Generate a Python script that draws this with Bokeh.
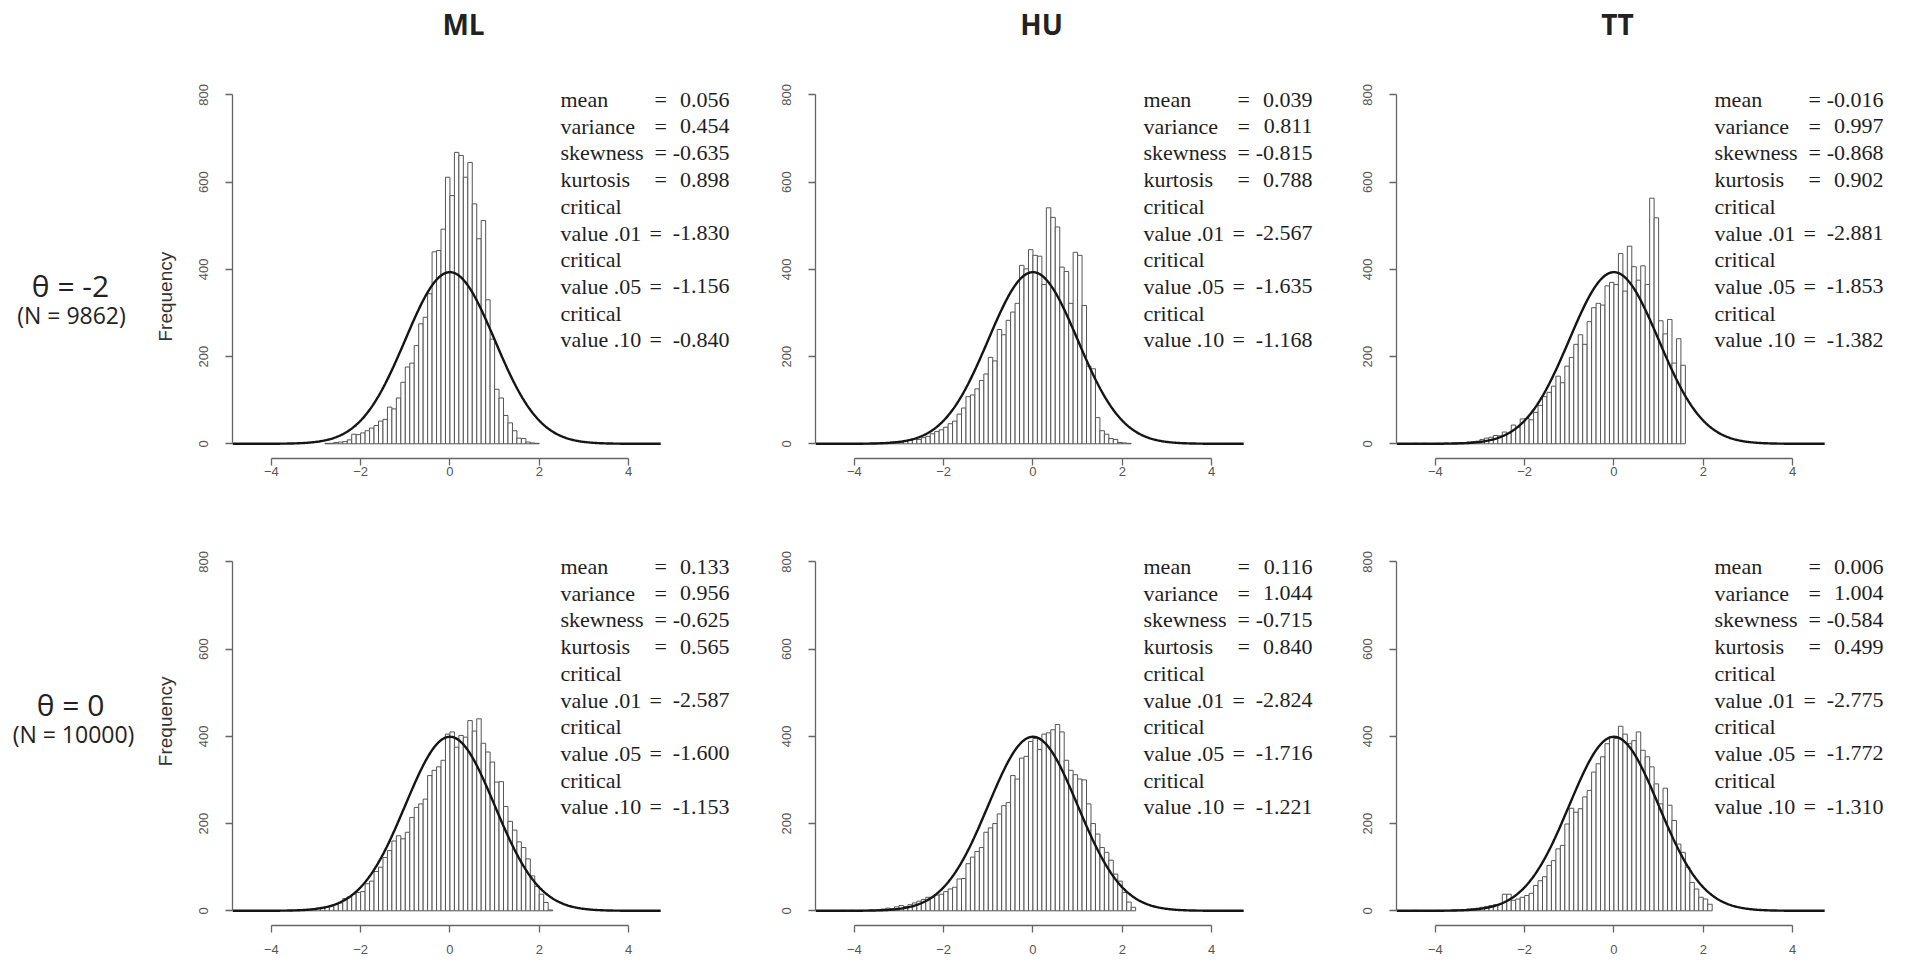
import numpy as np
from bokeh.plotting import figure
from bokeh.layouts import column, row
from bokeh.models import Range1d, LinearAxis, FixedTicker, Label, ColumnDataSource
from bokeh.core.properties import value
from bokeh.embed import file_html
from bokeh.resources import INLINE

BIN_WIDTH = 0.1

methods = ["ML", "HU", "TT"]
theta_labels = ["θ = -2", "θ = 0"]
n_labels = ["(N = 9862)", "(N = 10000)"]
n_sizes = [9862, 10000]

x_ticks = [-4, -2, 0, 2, 4]
y_ticks = [0, 200, 400, 600, 800]

stat_rows = ["mean", "variance", "skewness", "kurtosis", "critical",
             "value .01", "critical", "value .05", "critical", "value .10"]
stat_value_index = [0, 1, 2, 3, None, 4, None, 5, None, 6]

# ---- theta = -2 (N = 9862): histogram counts per 0.1 bin, from the given left edge
ml_m2_start = -2.8
ml_m2_counts = [1, 1, 3, 4, 5, 9, 22, 21, 25, 30, 36, 42, 52, 56, 84, 80, 105, 141, 176,
                185, 225, 275, 290, 344, 440, 443, 492, 611, 569, 668, 661, 611, 645,
                550, 470, 512, 330, 240, 125, 105, 65, 48, 30, 13, 12, 4, 2, 1]
ml_m2_stats = [0.056, 0.454, -0.635, 0.898, -1.830, -1.156, -0.840]

hu_m2_start = -3.9
hu_m2_counts = [1, 0, 1, 1, 2, 1, 3, 4, 5, 4, 6, 8, 12, 10, 14, 17, 23, 28, 32, 38,
                46, 52, 68, 82, 108, 112, 126, 145, 160, 198, 190, 262, 250, 283, 302,
                322, 409, 401, 445, 432, 430, 365, 541, 519, 497, 405, 395, 322, 439,
                432, 317, 178, 172, 60, 30, 22, 12, 10, 3, 2, 1]
hu_m2_stats = [0.039, 0.811, -0.815, 0.788, -2.567, -1.635, -1.168]

tt_m2_start = -4.5
tt_m2_counts = [1, 0, 1, 0, 0, 1, 1, 2, 1, 2, 3, 3, 4, 5, 6, 10, 13, 15, 19, 18, 27,
                24, 43, 38, 57, 58, 55, 72, 88, 108, 118, 132, 155, 140, 178, 198, 228,
                250, 228, 280, 312, 322, 318, 362, 370, 365, 436, 350, 453, 406, 375,
                408, 365, 563, 518, 282, 252, 285, 185, 241, 180]
tt_m2_stats = [-0.016, 0.997, -0.868, 0.902, -2.881, -1.853, -1.382]

# ---- theta = 0 (N = 10000)
ml_0_start = -3.6
ml_0_counts = [1, 1, 2, 2, 3, 4, 6, 8, 9, 10, 14, 18, 28, 32, 38, 42, 44, 62, 68, 90,
               100, 122, 138, 160, 172, 165, 180, 214, 237, 245, 256, 310, 322, 330, 345,
               405, 410, 375, 402, 398, 436, 412, 440, 384, 364, 341, 295, 296, 239, 205,
               185, 158, 145, 119, 80, 56, 38, 19, 2]
ml_0_stats = [0.133, 0.956, -0.625, 0.565, -2.587, -1.600, -1.153]

hu_0_start = -4.3
hu_0_counts = [1, 0, 1, 0, 1, 1, 2, 1, 3, 4, 6, 5, 9, 12, 10, 14, 18, 22, 26, 31, 31,
               36, 38, 44, 50, 54, 73, 74, 108, 123, 136, 145, 180, 190, 200, 222, 241,
               248, 310, 302, 350, 354, 388, 395, 370, 405, 408, 415, 427, 410, 345, 322,
               312, 302, 300, 245, 200, 176, 145, 134, 116, 84, 68, 42, 20, 8]
hu_0_stats = [0.116, 1.044, -0.715, 0.840, -2.824, -1.716, -1.221]

tt_0_start = -4.5
tt_0_counts = [1, 0, 0, 0, 0, 1, 0, 1, 1, 2, 2, 3, 4, 5, 6, 8, 10, 12, 14, 15, 38, 38,
               24, 27, 31, 35, 40, 58, 69, 78, 104, 115, 142, 150, 199, 235, 226, 234,
               261, 276, 318, 337, 353, 383, 399, 395, 423, 405, 383, 390, 410, 368, 353,
               330, 291, 245, 281, 242, 207, 153, 134, 100, 65, 50, 31, 27, 15]
tt_0_stats = [0.006, 1.004, -0.584, 0.499, -2.775, -1.772, -1.310]

panels = [
    [(ml_m2_start, ml_m2_counts, ml_m2_stats),
     (hu_m2_start, hu_m2_counts, hu_m2_stats),
     (tt_m2_start, tt_m2_counts, tt_m2_stats)],
    [(ml_0_start, ml_0_counts, ml_0_stats),
     (hu_0_start, hu_0_counts, hu_0_stats),
     (tt_0_start, tt_0_counts, tt_0_stats)],
]

# ---- page geometry (pixels)
LABEL_COL_W = 180
HEADER_H = 60
FRAME_W, FRAME_H = 506, 378
col_w = [580, 585, 560]
col_border_left = [52, 55, 51]
col_border_right = [22, 24, 3]
row_h = [432, 472]
row_border_top = [20, 55]
row_border_bottom = [34, 39]
row_tick_standoff = [1, 12]

PX_PER_X = 44.65
PX_PER_COUNT = 0.43625
X_START = -4.87
X_END = X_START + FRAME_W / PX_PER_X
Y_START = -33.7
Y_END = Y_START + FRAME_H / PX_PER_COUNT
CURVE_TO = 4.72

# stats block placement inside each frame (screen px from frame left / bottom)
stat_label_x = [328, 328, 318]
stat_value_right = [497, 497, 487]
STAT_TOP = FRAME_H - 19
STAT_STEP = 26.7

AXIS_COLOR = "#666666"
TICK_TEXT = "#555555"
INK = "#1e1e1e"


def clean(p):
    p.outline_line_color = None
    p.background_fill_color = "white"
    p.border_fill_color = "white"
    p.grid.visible = False
    return p


def blank_figure(w, h):
    p = figure(width=w, height=h, x_range=Range1d(0, w), y_range=Range1d(0, h),
               output_backend="svg", toolbar_location=None, tools="", title=None,
               x_axis_location=None, y_axis_location=None, min_border=0)
    return clean(p)


def make_panel(start, counts, n, stats, c, r):
    p = figure(width=col_w[c], height=row_h[r],
               x_range=Range1d(X_START, X_END), y_range=Range1d(Y_START, Y_END),
               output_backend="svg", toolbar_location=None, tools="", title=None,
               x_axis_location=None, y_axis_location=None,
               min_border_left=col_border_left[c], min_border_right=col_border_right[c],
               min_border_top=row_border_top[r], min_border_bottom=row_border_bottom[r])
    clean(p)

    counts = np.asarray(counts, dtype=float)
    centers = start + BIN_WIDTH * (np.arange(len(counts)) + 0.5)
    src = ColumnDataSource(dict(x=centers, top=counts))
    p.vbar(x="x", top="top", bottom=0, width=BIN_WIDTH, source=src,
           fill_color="white", line_color="#555555", line_width=1)

    # standard normal density scaled to the histogram counts
    xs = np.linspace(X_START, CURVE_TO, 500)
    ys = n * BIN_WIDTH * np.exp(-0.5 * xs ** 2) / np.sqrt(2 * np.pi)
    p.line(xs, ys, line_color="#151515", line_width=2.4)

    xaxis = LinearAxis(bounds=(-4, 4), ticker=FixedTicker(ticks=x_ticks, minor_ticks=[]))
    yaxis = LinearAxis(bounds=(0, 800), ticker=FixedTicker(ticks=y_ticks, minor_ticks=[]))
    for ax in (xaxis, yaxis):
        ax.axis_line_color = AXIS_COLOR
        ax.axis_line_width = 1.3
        ax.major_tick_line_color = AXIS_COLOR
        ax.major_tick_line_width = 1.3
        ax.major_tick_out = 7
        ax.major_tick_in = 0
        ax.minor_tick_out = 0
        ax.minor_tick_in = 0
        ax.major_label_text_font = "Liberation Sans"
        ax.major_label_text_font_size = "13px"
        ax.major_label_text_color = TICK_TEXT
    xaxis.major_label_standoff = row_tick_standoff[r]
    yaxis.major_label_standoff = 17
    yaxis.major_label_orientation = "parallel"
    p.add_layout(xaxis, "below")
    p.add_layout(yaxis, "left")

    lx = stat_label_x[c]
    vx = stat_value_right[c]
    for i, name in enumerate(stat_rows):
        y = STAT_TOP - STAT_STEP * i
        common = dict(y=y, x_units="screen", y_units="screen",
                      text_font="Liberation Serif", text_font_size="22px",
                      text_color=INK, text_baseline="middle")
        p.add_layout(Label(x=lx, text=name, text_align="left", **common))
        k = stat_value_index[i]
        if k is not None:
            eq_x = lx + (89 if len(name) > 8 else 94)
            p.add_layout(Label(x=eq_x, text="=", text_align="left", **common))
            p.add_layout(Label(x=vx, text=f"{stats[k]:.3f}", text_align="right", **common))
    return p


# column titles
header = blank_figure(1905, HEADER_H)
title_x = [463, 1041, 1617]
header.text(x=title_x, y=[HEADER_H - 23] * 3, text=methods,
            text_font=value("Open Sans"), text_font_size="28px", text_font_style="bold",
            text_align="center", text_baseline="middle", text_color="#222222")

# row labels and the shared y-axis title
theta_pos = [(70, 294 - HEADER_H), (70, 688 - HEADER_H - row_h[0])]
n_pos = [(71, 328 - HEADER_H), (73, 725 - HEADER_H - row_h[0])]
freq_pos = [(165, 307 - HEADER_H), (165, 709 - HEADER_H - row_h[0])]

rows = []
for r in range(2):
    h = row_h[r]
    lab = blank_figure(LABEL_COL_W, h)
    lab.text(x=[theta_pos[r][0]], y=[h - theta_pos[r][1]], text=[theta_labels[r]],
             text_font=value("Open Sans"), text_font_size="30px",
             text_align="center", text_baseline="middle", text_color="#222222")
    lab.text(x=[n_pos[r][0]], y=[h - n_pos[r][1]], text=[n_labels[r]],
             text_font=value("Open Sans"), text_font_size="23px",
             text_align="center", text_baseline="middle", text_color="#222222")
    lab.text(x=[freq_pos[r][0]], y=[h - freq_pos[r][1]], text=["Frequency"], angle=np.pi / 2,
             text_font=value("Liberation Sans"), text_font_size="19px",
             text_align="center", text_baseline="middle", text_color="#333333")
    figs = [lab]
    for c in range(3):
        start, counts, stats = panels[r][c]
        figs.append(make_panel(start, counts, n_sizes[r], stats, c, r))
    rows.append(row(*figs))

layout = column(header, *rows)

with open("out.html", "w") as f:
    f.write(file_html(layout, INLINE))
